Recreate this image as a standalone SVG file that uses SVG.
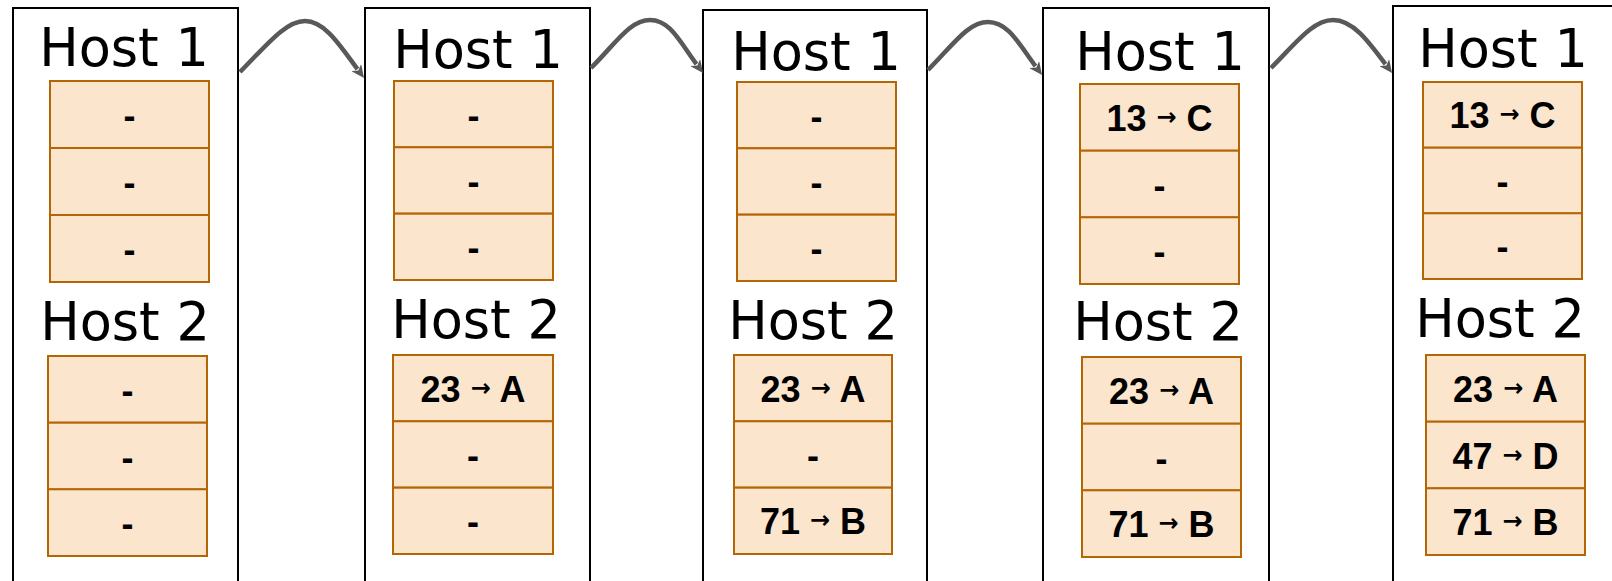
<svg xmlns="http://www.w3.org/2000/svg" width="1612" height="581" viewBox="0 0 1612 581">
<style>
.box{fill:#ffffff;stroke:#000000;stroke-width:2}
.cell{fill:#fce5cd;stroke:#b46504;stroke-width:2}
.host{font-family:"DejaVu Sans",sans-serif;font-size:52.5px;fill:#000000;text-anchor:middle}
.val{font-family:"Liberation Sans",Arial,sans-serif;font-weight:bold;font-size:36px;fill:#000000;text-anchor:middle}
.arr{font-family:"DejaVu Sans",sans-serif;font-size:24px}
.conn{fill:none;stroke:#595959;stroke-width:4.5}
</style>
<defs>
<marker id="ah" markerUnits="userSpaceOnUse" markerWidth="14" markerHeight="12" viewBox="0 0 14 12" refX="2" refY="6" orient="auto">
<path d="M0,0 L13,6 L0,12 L3.5,6 Z" fill="#595959"/>
</marker>
</defs>
<rect width="1612" height="581" fill="#ffffff"/>

<g id="state1">
<rect class="box" x="13" y="8" width="225" height="600"/>
<text class="host" x="124" y="66">Host 1</text>
<g id="s1h1">
<rect class="cell" x="50" y="81" width="159" height="67"/>
<rect class="cell" x="50" y="148" width="159" height="67"/>
<rect class="cell" x="50" y="215" width="159" height="67"/>
<text class="val" x="129.5" y="128">-</text>
<text class="val" x="129.5" y="195">-</text>
<text class="val" x="129.5" y="262">-</text>
</g>
<text class="host" x="125" y="340">Host 2</text>
<g id="s1h2">
<rect class="cell" x="48" y="356" width="159" height="66.7"/>
<rect class="cell" x="48" y="422.7" width="159" height="66.7"/>
<rect class="cell" x="48" y="489.3" width="159" height="66.7"/>
<text class="val" x="127.5" y="403">-</text>
<text class="val" x="127.5" y="469.7">-</text>
<text class="val" x="127.5" y="536.3">-</text>
</g>
</g>

<g id="state2">
<rect class="box" x="365" y="8" width="225" height="600"/>
<text class="host" x="478" y="68">Host 1</text>
<g id="s2h1">
<rect class="cell" x="394" y="81" width="159" height="66.3"/>
<rect class="cell" x="394" y="147.3" width="159" height="66.3"/>
<rect class="cell" x="394" y="213.7" width="159" height="66.3"/>
<text class="val" x="473.5" y="127.5">-</text>
<text class="val" x="473.5" y="193.8">-</text>
<text class="val" x="473.5" y="260.2">-</text>
</g>
<text class="host" x="476" y="338">Host 2</text>
<g id="s2h2">
<rect class="cell" x="393" y="355" width="160" height="66.3"/>
<rect class="cell" x="393" y="421.3" width="160" height="66.3"/>
<rect class="cell" x="393" y="487.7" width="160" height="66.3"/>
<text class="val" x="473" y="401.5">23 <tspan class="arr" dy="-6">→</tspan><tspan dy="6"> A</tspan></text>
<text class="val" x="473" y="467.8">-</text>
<text class="val" x="473" y="534.2">-</text>
</g>
</g>

<g id="state3">
<rect class="box" x="703" y="10" width="224" height="600"/>
<text class="host" x="816" y="70">Host 1</text>
<g id="s3h1">
<rect class="cell" x="737" y="82" width="159" height="66.3"/>
<rect class="cell" x="737" y="148.3" width="159" height="66.3"/>
<rect class="cell" x="737" y="214.7" width="159" height="66.3"/>
<text class="val" x="816.5" y="128.5">-</text>
<text class="val" x="816.5" y="194.8">-</text>
<text class="val" x="816.5" y="261.2">-</text>
</g>
<text class="host" x="813" y="339">Host 2</text>
<g id="s3h2">
<rect class="cell" x="734" y="355" width="158" height="66.3"/>
<rect class="cell" x="734" y="421.3" width="158" height="66.3"/>
<rect class="cell" x="734" y="487.7" width="158" height="66.3"/>
<text class="val" x="813" y="401.5">23 <tspan class="arr" dy="-6">→</tspan><tspan dy="6"> A</tspan></text>
<text class="val" x="813" y="467.8">-</text>
<text class="val" x="813" y="534.2">71 <tspan class="arr" dy="-6">→</tspan><tspan dy="6"> B</tspan></text>
</g>
</g>

<g id="state4">
<rect class="box" x="1043" y="8" width="226" height="600"/>
<text class="host" x="1160" y="70">Host 1</text>
<g id="s4h1">
<rect class="cell" x="1080" y="84" width="159" height="66.7"/>
<rect class="cell" x="1080" y="150.7" width="159" height="66.7"/>
<rect class="cell" x="1080" y="217.3" width="159" height="66.7"/>
<text class="val" x="1159.5" y="131">13 <tspan class="arr" dy="-6">→</tspan><tspan dy="6"> C</tspan></text>
<text class="val" x="1159.5" y="197.7">-</text>
<text class="val" x="1159.5" y="264.3">-</text>
</g>
<text class="host" x="1158" y="340">Host 2</text>
<g id="s4h2">
<rect class="cell" x="1082" y="357" width="159" height="66.7"/>
<rect class="cell" x="1082" y="423.7" width="159" height="66.7"/>
<rect class="cell" x="1082" y="490.3" width="159" height="66.7"/>
<text class="val" x="1161.5" y="404">23 <tspan class="arr" dy="-6">→</tspan><tspan dy="6"> A</tspan></text>
<text class="val" x="1161.5" y="470.7">-</text>
<text class="val" x="1161.5" y="537.3">71 <tspan class="arr" dy="-6">→</tspan><tspan dy="6"> B</tspan></text>
</g>
</g>

<g id="state5">
<rect class="box" x="1393" y="6" width="260" height="600"/>
<text class="host" x="1503" y="67">Host 1</text>
<g id="s5h1">
<rect class="cell" x="1423" y="82" width="159" height="65.7"/>
<rect class="cell" x="1423" y="147.7" width="159" height="65.7"/>
<rect class="cell" x="1423" y="213.3" width="159" height="65.7"/>
<text class="val" x="1502.5" y="128">13 <tspan class="arr" dy="-6">→</tspan><tspan dy="6"> C</tspan></text>
<text class="val" x="1502.5" y="193.5">-</text>
<text class="val" x="1502.5" y="259.2">-</text>
</g>
<text class="host" x="1500" y="337">Host 2</text>
<g id="s5h2">
<rect class="cell" x="1426" y="355" width="159" height="66.7"/>
<rect class="cell" x="1426" y="421.7" width="159" height="66.7"/>
<rect class="cell" x="1426" y="488.3" width="159" height="66.7"/>
<text class="val" x="1505.5" y="402">23 <tspan class="arr" dy="-6">→</tspan><tspan dy="6"> A</tspan></text>
<text class="val" x="1505.5" y="468.7">47 <tspan class="arr" dy="-6">→</tspan><tspan dy="6"> D</tspan></text>
<text class="val" x="1505.5" y="535.3">71 <tspan class="arr" dy="-6">→</tspan><tspan dy="6"> B</tspan></text>
</g>
</g>

<g id="connectors">
<path class="conn" marker-end="url(#ah)" d="M240,72 C265,47 285,21 305,21 C325,21 340.5,46.2 357.5,69.2"/>
<path class="conn" marker-end="url(#ah)" d="M591,68 C616,43 630,20 650,20 C670,20 679.5,41.2 696.5,64.2"/>
<path class="conn" marker-end="url(#ah)" d="M928,70 C953,45 968,22 988,22 C1008,22 1018.5,43.2 1035.5,66.2"/>
<path class="conn" marker-end="url(#ah)" d="M1271,68 C1296,43 1313,20 1333,20 C1353,20 1368.5,41.2 1385.5,64.2"/>
</g>
</svg>
